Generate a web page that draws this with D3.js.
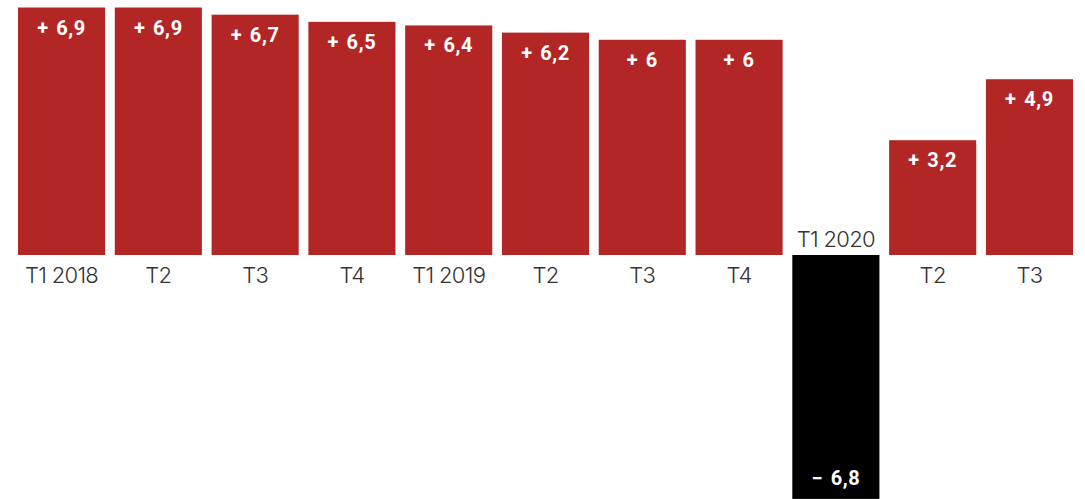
<!DOCTYPE html>
<html>
<head>
<meta charset="utf-8">
<script src="https://cdn.jsdelivr.net/npm/d3@7"></script>
<style>
  body { margin: 0; background: #fff; }
  svg { display: block; }
</style>
</head>
<body>
<div id="chart-container"></div>
<script>
const categories = ["T1 2018", "T2", "T3", "T4", "T1 2019", "T2", "T3", "T4", "T1 2020", "T2", "T3"];
const values = [6.9, 6.9, 6.7, 6.5, 6.4, 6.2, 6, 6, -6.8, 3.2, 4.9];
const valueLabels = ["+ 6,9", "+ 6,9", "+ 6,7", "+ 6,5", "+ 6,4", "+ 6,2", "+ 6", "+ 6", "\u2212 6,8", "+ 3,2", "+ 4,9"];

const data = categories.map((c, i) => ({ key: i, cat: c, value: values[i], label: valueLabels[i] }));

const width = 1085;
const height = 499;

const svg = d3.select("#chart-container")
    .append("svg")
    .attr("width", width)
    .attr("height", height);

const xScale = d3.scaleBand()
    .domain(data.map(d => d.key))
    .range([18, 1073])
    .paddingInner(0.1)
    .paddingOuter(0);

// baseline at y=255, 6.9 reaches y=7.5
const yScale = d3.scaleLinear()
    .domain([0, 6.9])
    .range([255, 7.5]);

svg.selectAll(".bar")
    .data(data)
    .enter()
    .append("rect")
    .attr("class", "bar")
    .attr("x", d => xScale(d.key))
    .attr("width", xScale.bandwidth())
    .attr("y", d => Math.min(yScale(d.value), yScale(0)))
    .attr("height", d => Math.abs(yScale(d.value) - yScale(0)))
    .attr("fill", d => d.value < 0 ? "#000000" : "#b22626");

// value labels inside bars
svg.selectAll(".val")
    .data(data)
    .enter()
    .append("text")
    .attr("class", "val")
    .attr("x", d => xScale(d.key) + xScale.bandwidth() / 2)
    .attr("y", d => d.value < 0 ? yScale(d.value) - 14 : yScale(d.value) + 27)
    .attr("text-anchor", "middle")
    .attr("fill", "#ffffff")
    .style("font-family", "Roboto, sans-serif")
    .style("font-weight", "700")
    .style("font-size", "20px")
    .style("letter-spacing", "0.6px")
    .style("word-spacing", "2px")
    .text(d => d.label);

// category labels
svg.selectAll(".cat")
    .data(data)
    .enter()
    .append("text")
    .attr("class", "cat")
    .attr("x", d => xScale(d.key) + xScale.bandwidth() / 2)
    .attr("y", d => d.value < 0 ? yScale(0) - 8 : yScale(0) + 28)
    .attr("text-anchor", "middle")
    .attr("fill", "#333333")
    .style("font-family", "Inter, sans-serif")
    .style("font-weight", "300")
    .style("font-size", "22px")
    .style("letter-spacing", "-0.7px")
    .text(d => d.cat);
</script>
</body>
</html>
